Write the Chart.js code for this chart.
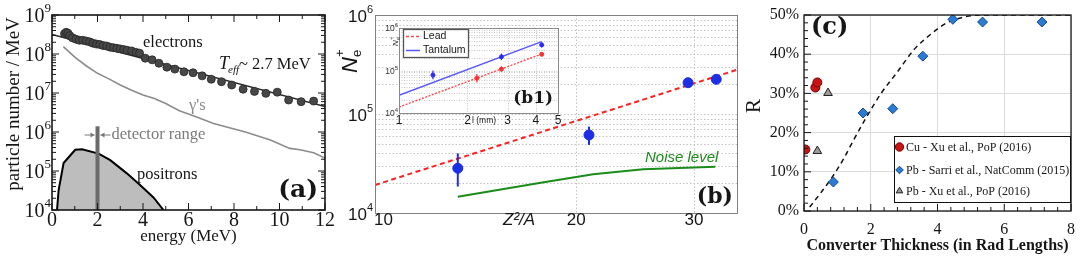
<!DOCTYPE html>
<html><head><meta charset="utf-8">
<script src="https://cdn.jsdelivr.net/npm/chart.js@4.4.1/dist/chart.umd.min.js"></script>
<style>
html,body{margin:0;padding:0;background:#fff;overflow:hidden}
#wrap{position:relative;width:1084px;height:257px;background:#fff}
#wrap canvas{position:absolute;left:0;top:0}
</style></head><body>
<div id="wrap">
<canvas id="ca" width="1084" height="257"></canvas>
<canvas id="cb" width="1084" height="257"></canvas>
<canvas id="cb1" width="1084" height="257"></canvas>
<canvas id="cc" width="1084" height="257"></canvas>
</div>
<script>
// ---------------- Panel (a): particle spectra ----------------
const aXTicks = [0, 2, 4, 6, 8, 10, 12];
const aYTicks = [1e4, 1e5, 1e6, 1e7, 1e8, 1e9];
const aYTickExp = ['4', '5', '6', '7', '8', '9'];
const aElecE = [0.55,0.62,0.70,0.78,0.90,1.05,1.20,1.35,1.50,1.65,1.80,1.95,2.10,2.25,2.40,2.55,2.70,2.85,3.00,3.15,3.30,3.50,3.70,3.85,4.10,4.40,4.70,5.05,5.40,5.80,6.20,6.60,7.00,7.45,7.90,8.40,8.90,9.40,9.90,10.40,10.95,11.50];
const aElecN = [3.3e8,3.6e8,3.4e8,2.95e8,2.6e8,2.4e8,2.25e8,2.25e8,2.15e8,2.05e8,1.9e8,1.8e8,1.75e8,1.65e8,1.6e8,1.5e8,1.45e8,1.4e8,1.35e8,1.3e8,1.25e8,1.2e8,1.1e8,1.05e8,7.8e7,7.1e7,5.8e7,4.6e7,4.1e7,3.5e7,3.3e7,2.75e7,2.25e7,1.95e7,1.6e7,1.25e7,1.1e7,9.8e6,1.05e7,6.6e6,6.0e6,6.2e6];
const aFitE = [0, 12];
const aFitN = [3.15e8, 4.5e6];
const aGamE = [0.5,1,1.5,2,2.5,3,3.5,4,4.5,5,5.6,6.3,7.1,8.5,9.6,10.45,10.9,11.5,12];
const aGamN = [1.55e8,8.3e7,5.0e7,3.2e7,2.3e7,1.6e7,1.17e7,8.9e6,7.2e6,5.4e6,3.5e6,2.5e6,1.66e6,1.0e6,6.2e5,3.8e5,3.5e5,2.95e5,2.15e5];
const aPosE = [0.22,0.29,0.51,1.02,1.32,2.05,2.56,3.29,3.87,4.46,4.9];
const aPosN = [1e4,3.2e4,1.6e5,3.5e5,3.6e5,2.8e5,1.9e5,8.7e4,4.4e4,2.1e4,1e4];
const aDetE = [2, 2];
const aDetN = [1e4, 1.4e6];

// ---------------- Panel (b): N_e+ vs Z^2/A ----------------
const bXTicks = [10, 20, 30];
const bXMax = 34.8;
const bYTicks = [1e4, 1e5, 1e6];
const bYTickExp = ['4', '5', '6'];
const bLeadZ = [10, 34.8];
const bLeadN = [1.92e4, 2.8e5];
const bMeasZ = [13.3, 20.9, 29.4, 32.4];
const bMeasN = [2.83e4, 6.14e4, 2.07e5, 2.24e5];
const bMeasLo = [1.85e4, 4.87e4, 1.86e5, 2.01e5];
const bMeasHi = [4.0e4, 7.45e4, 2.3e5, 2.48e5];
const bNoiseZ = [13.3, 17.7, 21.2, 25.2, 32.3];
const bNoiseN = [1.46e4, 2.02e4, 2.46e4, 2.76e4, 2.94e4];

// ---------------- Inset (b1): N_e+ vs thickness ----------------
const b1XTicks = [1, 2, 3, 4, 5];
const b1YTicks = [1e4, 1e5, 1e6];
const b1YTickExp = ['4', '5', '6'];
const b1LeadL = [1, 4.24];
const b1LeadN = [1.38e4, 2.45e5];
const b1TaL = [1, 4.24];
const b1TaN = [2.6e4, 4.8e5];
const b1LeadPtL = [2.2, 2.82, 4.24];
const b1LeadPtN = [6.6e4, 1.08e5, 2.4e5];
const b1LeadPtLo = [5.2e4, 9.3e4, 2.2e5];
const b1LeadPtHi = [8.3e4, 1.25e5, 2.65e5];
const b1TaPtL = [1.41, 2.82, 4.24];
const b1TaPtN = [7.8e4, 2.1e5, 4.0e5];
const b1TaPtLo = [6.2e4, 1.75e5, 3.5e5];
const b1TaPtHi = [1.0e5, 2.5e5, 4.6e5];

// ---------------- Panel (c): R vs converter thickness ----------------
const cXTicks = [0, 2, 4, 6, 8];
const cYTicks = [0, 10, 20, 30, 40, 50];
const cCuX = [0.04, 0.34, 0.40];
const cCuY = [15.7, 31.5, 32.8];
const cPbSX = [0.88, 1.77, 2.66, 3.56, 4.46, 5.35, 7.13];
const cPbSY = [7.4, 25.0, 26.1, 39.5, 48.9, 48.2, 48.2];
const cPbXX = [0.40, 0.72];
const cPbXY = [15.3, 30.1];
const cModelX = [0.17, 0.5, 0.85, 1.2, 1.43, 1.82, 2.31, 2.8, 3.29, 3.77, 4.26, 4.75, 5.33, 8];
const cModelY = [1.0, 4.6, 8.7, 13.5, 17.2, 23.2, 30.0, 35.5, 41.1, 44.9, 47.9, 49.4, 50, 50];
const cLabels = ['Cu - Xu et al., PoP (2016)', 'Pb - Sarri et al., NatComm (2015)', 'Pb - Xu et al., PoP (2016)'];

// ---------------- helpers ----------------
const INK = '#161616';
const SERIF = '"Liberation Serif", "Times New Roman", serif';
const SANS = '"Liberation Sans", Arial, sans-serif';
const DSERIF = '"DejaVu Serif", serif';
const xy = (xs, ys) => xs.map((v, i) => ({x: v, y: ys[i]}));
function L(ctx, x1, y1, x2, y2) { ctx.beginPath(); ctx.moveTo(x1, y1); ctx.lineTo(x2, y2); ctx.stroke(); }
function T(ctx, s, x, y, font, color, align, base) {
  ctx.font = font; ctx.fillStyle = color; ctx.textAlign = align || 'left';
  ctx.textBaseline = base || 'middle'; ctx.fillText(s, x, y);
}
function supLabel(ctx, exp, xr, yc, size, supSize, family, color) {
  ctx.font = supSize + 'px ' + family;
  const w = ctx.measureText(exp).width;
  T(ctx, exp, xr, yc - size * 0.42, supSize + 'px ' + family, color, 'right');
  T(ctx, '10', xr - w, yc, size + 'px ' + family, color, 'right');
}
function baseOptions(padding) {
  return {responsive: false, maintainAspectRatio: false, animation: false, devicePixelRatio: 1, events: [],
    layout: {padding}, plugins: {legend: {display: false}, tooltip: {enabled: false}}};
}
function hiddenAxis(type, min, max, ticks, fit) {
  return {type, min, max, afterBuildTicks: s => { s.ticks = ticks.map(v => ({value: v})); },
    grid: {display: false, drawTicks: false}, border: {display: false}, ticks: {display: false}, afterFit: fit};
}
function logMinor(lo, hi) {
  const out = [];
  for (let e = Math.round(Math.log10(lo)); e < Math.round(Math.log10(hi)); e++)
    for (let m = 1; m < 10; m++) out.push(m * Math.pow(10, e));
  out.push(hi); return out;
}

// ---------------- Chart (a) ----------------
const aDecor = {
  id: 'aDecor',
  afterDraw(chart) {
    const {ctx, chartArea: ca, scales: {x, y}} = chart;
    ctx.save();
    ctx.strokeStyle = INK; ctx.lineWidth = 1;
    logMinor(1e4, 1e9).forEach(v => {
      const py = y.getPixelForValue(v); const len = Math.abs(Math.log10(v) % 1) < 1e-9 ? 7 : 4;
      L(ctx, ca.left, py, ca.left + len, py); L(ctx, ca.right, py, ca.right - len, py);
    });
    for (let v = 0; v <= 12; v++) {
      const px = x.getPixelForValue(v); const len = v % 2 === 0 ? 7 : 4;
      L(ctx, px, ca.bottom, px, ca.bottom - len); L(ctx, px, ca.top, px, ca.top + len);
    }
    ctx.lineWidth = 1.6; ctx.strokeRect(ca.left, ca.top, ca.width, ca.height);
    aYTicks.forEach((v, i) => supLabel(ctx, aYTickExp[i], ca.left - 1, y.getPixelForValue(v) + 2, 20, 13, SERIF, INK));
    // y title
    ctx.save(); ctx.translate(14, 104); ctx.rotate(-Math.PI / 2);
    T(ctx, 'particle number / MeV', 0, 0, '19px ' + SERIF, INK, 'center');
    ctx.restore();
    // annotations
    T(ctx, 'electrons', 143, 43, '16.5px ' + SERIF, INK);
    ctx.textBaseline = 'alphabetic';
    ctx.font = 'italic 18px ' + SERIF; ctx.fillStyle = INK; ctx.textAlign = 'left';
    ctx.fillText('T', 219, 69); const wT = ctx.measureText('T').width;
    ctx.font = 'italic 11px ' + SERIF; ctx.fillText('eff', 219 + wT - 1, 73); const wE = ctx.measureText('eff').width;
    ctx.font = '16.5px ' + SERIF; ctx.fillText('~ 2.7 MeV', 219 + wT + wE - 1, 69);
    T(ctx, "\u03b3's", 189, 106, '16.5px ' + SERIF, '#8a8a8a');
    const bx = x.getPixelForValue(aDetE[0]), ay = 135;
    ctx.strokeStyle = '#777'; ctx.fillStyle = '#777'; ctx.lineWidth = 1;
    const arrow = (x1, x2) => { L(ctx, x1, ay, x2, ay); const d = Math.sign(x2 - x1);
      ctx.beginPath(); ctx.moveTo(x2, ay); ctx.lineTo(x2 - d * 4, ay - 2.5); ctx.lineTo(x2 - d * 4, ay + 2.5); ctx.closePath(); ctx.fill(); };
    arrow(bx - 13, bx - 3); arrow(bx + 13, bx + 3);
    T(ctx, 'detector range', bx + 14, ay, '16.5px ' + SERIF, '#7a7a7a');
    T(ctx, 'positrons', 137, 175, '16.5px ' + SERIF, INK);
    T(ctx, '(a)', 318, 190, 'bold 25px ' + DSERIF, INK, 'right');
    ctx.restore();
  }
};
const aOpt = baseOptions({left: 0, top: 15, right: 759, bottom: 7});
aOpt.scales = {
  x: {type: 'linear', min: 0, max: 12, afterBuildTicks: s => { s.ticks = aXTicks.map(v => ({value: v})); },
    grid: {display: false, drawTicks: false}, border: {display: false},
    ticks: {font: {family: SERIF, size: 20}, color: INK, padding: -1, maxRotation: 0, autoSkip: false},
    title: {display: true, text: 'energy (MeV)', font: {family: SERIF, size: 17}, color: INK, padding: {top: 0, bottom: 3}},
    afterFit: s => { s.height = 40; }},
  y: hiddenAxis('logarithmic', 1e4, 1e9, aYTicks, s => { s.width = 52; })
};
new Chart(document.getElementById('ca'), {
  type: 'scatter',
  data: {datasets: [
    {label: 'electrons', data: xy(aElecE, aElecN), pointRadius: 4, pointBackgroundColor: '#474747', pointBorderColor: '#262626', pointBorderWidth: 0.8, order: 1},
    {label: 'T_eff fit', data: xy(aFitE, aFitN), showLine: true, pointRadius: 0, borderColor: '#2b2b2b', borderWidth: 1.5, order: 2},
    {label: "gammas", data: xy(aGamE, aGamN), showLine: true, pointRadius: 0, borderColor: '#8c8c8c', borderWidth: 1.6, order: 3},
    {label: 'detector range', data: xy(aDetE, aDetN), showLine: true, pointRadius: 0, borderColor: '#6b6b6b', borderWidth: 4, order: 4},
    {label: 'positrons', data: xy(aPosE, aPosN), showLine: true, pointRadius: 0, borderColor: '#000', borderWidth: 2, backgroundColor: '#bdbdbd', fill: 'start', order: 5}
  ]},
  options: aOpt,
  plugins: [aDecor]
});

// ---------------- Chart (b) ----------------
const BLUE = '#1c2fe6';
const bDecor = {
  id: 'bDecor',
  beforeDatasetsDraw(chart) {
    const {ctx, chartArea: ca, scales: {x, y}} = chart;
    ctx.save(); ctx.strokeStyle = '#c2c2c2'; ctx.lineWidth = 1; ctx.setLineDash([1.5, 2]);
    logMinor(1e4, 1e6).forEach(v => { const py = Math.round(y.getPixelForValue(v)) + 0.5; L(ctx, ca.left, py, ca.right, py); });
    bXTicks.forEach(v => { const px = Math.round(x.getPixelForValue(v)) + 0.5; L(ctx, px, ca.top, px, ca.bottom); });
    ctx.restore();
  },
  afterDraw(chart) {
    const {ctx, chartArea: ca, scales: {x, y}} = chart;
    ctx.save();
    ctx.strokeStyle = '#808080'; ctx.lineWidth = 1;
    ctx.strokeRect(Math.round(ca.left) + 0.5, Math.round(ca.top) + 0.5, Math.round(ca.width), Math.round(ca.height));
    bYTicks.forEach((v, i) => supLabel(ctx, bYTickExp[i], ca.left - 2, y.getPixelForValue(v) + 2, 17, 11, SANS, INK));
    bXTicks.forEach((v, i) => {
      const px = x.getPixelForValue(v);
      T(ctx, String(v), i === 0 ? px - 1 : px, 220, '17px ' + SANS, INK, i === 0 ? 'left' : 'center');
    });
    T(ctx, 'Z\u00b2/A', 503, 220, 'italic 17px ' + SANS, INK);
    // y title N_e+
    ctx.save(); ctx.translate(350, 64); ctx.rotate(-Math.PI / 2);
    ctx.textBaseline = 'alphabetic'; ctx.textAlign = 'left'; ctx.fillStyle = INK;
    ctx.font = 'italic 22px ' + SANS; ctx.fillText('N', -9, 7);
    ctx.font = '13px ' + SANS; ctx.fillText('e', 7, 11); ctx.fillText('+', 7, -6);
    ctx.restore();
    T(ctx, 'Noise level', 645, 158, 'italic 15px ' + SANS, '#1a8c1a');
    T(ctx, '(b)', 733, 197, 'bold 22px ' + DSERIF, INK, 'right');
    ctx.restore();
  }
};
const bOpt = baseOptions({left: 0, top: 15, right: 347, bottom: 14});
bOpt.scales = {
  x: hiddenAxis('logarithmic', 10, bXMax, bXTicks, s => { s.height = 30; }),
  y: hiddenAxis('logarithmic', 1e4, 1e6, bYTicks, s => { s.width = 375; })
};
new Chart(document.getElementById('cb'), {
  type: 'scatter',
  data: {datasets: [
    {label: 'measured', data: xy(bMeasZ, bMeasN), pointRadius: 5, pointBackgroundColor: BLUE, pointBorderColor: BLUE, order: 1},
    ...bMeasZ.map((z, i) => ({label: 'err' + i, data: [{x: z, y: bMeasLo[i]}, {x: z, y: bMeasHi[i]}], showLine: true, pointRadius: 0, borderColor: BLUE, borderWidth: 2, order: 2})),
    {label: 'Lead', data: xy(bLeadZ, bLeadN), showLine: true, pointRadius: 0, borderColor: '#ff2020', borderWidth: 2, borderDash: [5, 3.5], order: 3},
    {label: 'Noise level', data: xy(bNoiseZ, bNoiseN), showLine: true, pointRadius: 0, borderColor: '#1a8c1a', borderWidth: 2, order: 4}
  ]},
  options: bOpt,
  plugins: [bDecor]
});

// ---------------- Chart (b1) inset ----------------
const LBLUE = '#5555ff', LRED = '#ff4a4a';
const b1Decor = {
  id: 'b1Decor',
  beforeDraw(chart) {
    const {ctx, chartArea: ca} = chart;
    ctx.save(); ctx.fillStyle = '#fff'; ctx.fillRect(ca.left, ca.top, ca.width, ca.height); ctx.restore();
  },
  beforeDatasetsDraw(chart) {
    const {ctx, chartArea: ca, scales: {x, y}} = chart;
    ctx.save(); ctx.strokeStyle = '#c8c8c8'; ctx.lineWidth = 1; ctx.setLineDash([1, 1.5]);
    logMinor(1e4, 1e6).forEach(v => { const py = Math.round(y.getPixelForValue(v)) + 0.5; L(ctx, ca.left, py, ca.right, py); });
    b1XTicks.forEach(v => { const px = Math.round(x.getPixelForValue(v)) + 0.5; L(ctx, px, ca.top, px, ca.bottom); });
    ctx.restore();
  },
  afterDraw(chart) {
    const {ctx, chartArea: ca, scales: {x, y}} = chart;
    ctx.save();
    ctx.strokeStyle = '#8a8a8a'; ctx.lineWidth = 1;
    ctx.strokeRect(Math.round(ca.left) + 0.5, Math.round(ca.top) + 0.5, Math.round(ca.width), Math.round(ca.height));
    b1YTicks.forEach((v, i) => supLabel(ctx, b1YTickExp[i], ca.left - 1, y.getPixelForValue(v) + 1, 8.5, 6, SANS, '#333'));
    b1XTicks.forEach(v => T(ctx, String(v), x.getPixelForValue(v), 121, '12px ' + SANS, INK, 'center'));
    T(ctx, 'l (mm)', 472, 121, '8.5px ' + SANS, INK);
    ctx.save(); ctx.translate(396, 42); ctx.rotate(-Math.PI / 2);
    ctx.textBaseline = 'alphabetic'; ctx.fillStyle = '#333'; ctx.textAlign = 'left';
    ctx.font = 'italic 8px ' + SANS; ctx.fillText('N', -4, 2);
    ctx.font = '5.5px ' + SANS; ctx.fillText('e', 2, 4); ctx.fillText('+', 2, -3);
    ctx.restore();
    // legend
    ctx.fillStyle = '#fff'; ctx.fillRect(403, 29, 66, 29);
    ctx.strokeStyle = '#555'; ctx.lineWidth = 1.3; ctx.strokeRect(403.5, 29.5, 65, 28);
    ctx.lineWidth = 1.5; ctx.strokeStyle = LRED; ctx.setLineDash([3, 2]); L(ctx, 406, 36.5, 420, 36.5);
    ctx.setLineDash([]); ctx.strokeStyle = LBLUE; L(ctx, 406, 50.5, 420, 50.5);
    T(ctx, 'Lead', 423, 36.5, '10.5px ' + SANS, INK);
    T(ctx, 'Tantalum', 423, 50.5, '10.5px ' + SANS, INK);
    T(ctx, '(b1)', 553, 99, 'bold 17px ' + DSERIF, INK, 'right');
    ctx.restore();
  }
};
const b1Opt = baseOptions({left: 389, top: 28, right: 526, bottom: 134});
b1Opt.scales = {
  x: hiddenAxis('logarithmic', 1, 5, b1XTicks, s => { s.height = 10; }),
  y: hiddenAxis('logarithmic', 1e4, 1e6, b1YTicks, s => { s.width = 10; })
};
new Chart(document.getElementById('cb1'), {
  type: 'scatter',
  data: {datasets: [
    {label: 'Tantalum pts', data: xy(b1TaPtL, b1TaPtN), pointRadius: 2, pointBackgroundColor: '#2a2aff', pointBorderColor: '#2a2aff', order: 1},
    {label: 'Lead pts', data: xy(b1LeadPtL, b1LeadPtN), pointRadius: 2, pointBackgroundColor: '#ff3030', pointBorderColor: '#ff3030', order: 1},
    ...b1TaPtL.map((l, i) => ({label: 'taerr' + i, data: [{x: l, y: b1TaPtLo[i]}, {x: l, y: b1TaPtHi[i]}], showLine: true, pointRadius: 0, borderColor: '#2a2aff', borderWidth: 1.2, order: 2})),
    ...b1LeadPtL.map((l, i) => ({label: 'pberr' + i, data: [{x: l, y: b1LeadPtLo[i]}, {x: l, y: b1LeadPtHi[i]}], showLine: true, pointRadius: 0, borderColor: '#ff3030', borderWidth: 1.2, order: 2})),
    {label: 'Tantalum', data: xy(b1TaL, b1TaN), showLine: true, pointRadius: 0, borderColor: LBLUE, borderWidth: 1.4, order: 3},
    {label: 'Lead', data: xy(b1LeadL, b1LeadN), showLine: true, pointRadius: 0, borderColor: LRED, borderWidth: 1.4, borderDash: [2, 1.5], order: 3}
  ]},
  options: b1Opt,
  plugins: [b1Decor]
});

// ---------------- Chart (c) ----------------
const cStyles = [
  {pointStyle: 'circle', radius: 4.5, fill: '#c81414', stroke: '#7a0000'},
  {pointStyle: 'rectRot', radius: 5, fill: '#2a7bd4', stroke: '#174a85'},
  {pointStyle: 'triangle', radius: 5, fill: '#9a9a9a', stroke: '#222'}
];
const cDecor = {
  id: 'cDecor',
  afterDraw(chart) {
    const {ctx, chartArea: ca, scales: {x, y}} = chart;
    ctx.save();
    ctx.strokeStyle = INK; ctx.lineWidth = 1;
    for (let i = 0; i <= 25; i++) { const py = y.getPixelForValue(i * 2); L(ctx, ca.left, py, ca.left + (i % 5 === 0 ? 7 : 4), py); }
    for (let i = 0; i <= 20; i++) { const px = x.getPixelForValue(i * 0.4); L(ctx, px, ca.bottom, px, ca.bottom - (i % 5 === 0 ? 7 : 4)); }
    ctx.lineWidth = 1.3; ctx.strokeRect(ca.left, ca.top, ca.width, ca.height);
    ctx.save(); ctx.translate(754, 106); ctx.rotate(-Math.PI / 2);
    T(ctx, 'R', 0, 0, '21px ' + SERIF, INK, 'center'); ctx.restore();
    // legend
    ctx.fillStyle = '#fff'; ctx.fillRect(894, 136, 177, 67);
    ctx.strokeStyle = '#111'; ctx.lineWidth = 1; ctx.strokeRect(894.5, 136.5, 176, 66);
    const rows = [147, 170, 191];
    cLabels.forEach((lab, i) => {
      const st = cStyles[i];
      ctx.fillStyle = st.fill; ctx.strokeStyle = st.stroke; ctx.lineWidth = 1;
      Chart.helpers.drawPoint(ctx, {pointStyle: st.pointStyle, radius: i === 0 ? 4.2 : 3.8, rotation: 0, borderWidth: 1}, 899.5, rows[i]);
      T(ctx, lab, 906, rows[i] + 0.5, '12px ' + SERIF, INK);
    });
    T(ctx, '(c)', 811, 28, 'bold 24px ' + DSERIF, INK);
    ctx.restore();
  }
};
const cOpt = baseOptions({left: 740, top: 15, right: 6, bottom: 0});
cOpt.scales = {
  x: {type: 'linear', min: 0, max: 8, afterBuildTicks: s => { s.ticks = cXTicks.map(v => ({value: v})); },
    grid: {display: true, color: '#dcdcdc', lineWidth: 1, drawTicks: false}, border: {display: false},
    ticks: {font: {family: SERIF, size: 16}, color: INK, padding: 9, maxRotation: 0, autoSkip: false},
    title: {display: true, text: 'Converter Thickness (in Rad Lengths)', font: {family: SERIF, size: 16, weight: 'bold'}, color: INK, padding: {top: 0, bottom: 2}},
    afterFit: s => { s.height = 46; }},
  y: {type: 'linear', min: 0, max: 50, afterBuildTicks: s => { s.ticks = cYTicks.map(v => ({value: v})); },
    grid: {display: true, color: '#dcdcdc', lineWidth: 1, drawTicks: false}, border: {display: false},
    ticks: {font: {family: SERIF, size: 16}, color: INK, padding: 5, callback: v => v + '%'},
    afterFit: s => { s.width = 64; }}
};
new Chart(document.getElementById('cc'), {
  type: 'scatter',
  data: {datasets: [
    {label: cLabels[0], data: xy(cCuX, cCuY), pointStyle: cStyles[0].pointStyle, pointRadius: cStyles[0].radius, pointBackgroundColor: cStyles[0].fill, pointBorderColor: cStyles[0].stroke, pointBorderWidth: 1, order: 1},
    {label: cLabels[1], data: xy(cPbSX, cPbSY), pointStyle: cStyles[1].pointStyle, pointRadius: cStyles[1].radius, pointBackgroundColor: cStyles[1].fill, pointBorderColor: cStyles[1].stroke, pointBorderWidth: 1, order: 1},
    {label: cLabels[2], data: xy(cPbXX, cPbXY), pointStyle: cStyles[2].pointStyle, pointRadius: cStyles[2].radius, pointBackgroundColor: cStyles[2].fill, pointBorderColor: cStyles[2].stroke, pointBorderWidth: 1, order: 1},
    {label: 'model', data: xy(cModelX, cModelY), showLine: true, pointRadius: 0, borderColor: '#111', borderWidth: 1.5, borderDash: [5, 4], cubicInterpolationMode: 'monotone', order: 2}
  ]},
  options: cOpt,
  plugins: [cDecor]
});
</script>
</body></html>
